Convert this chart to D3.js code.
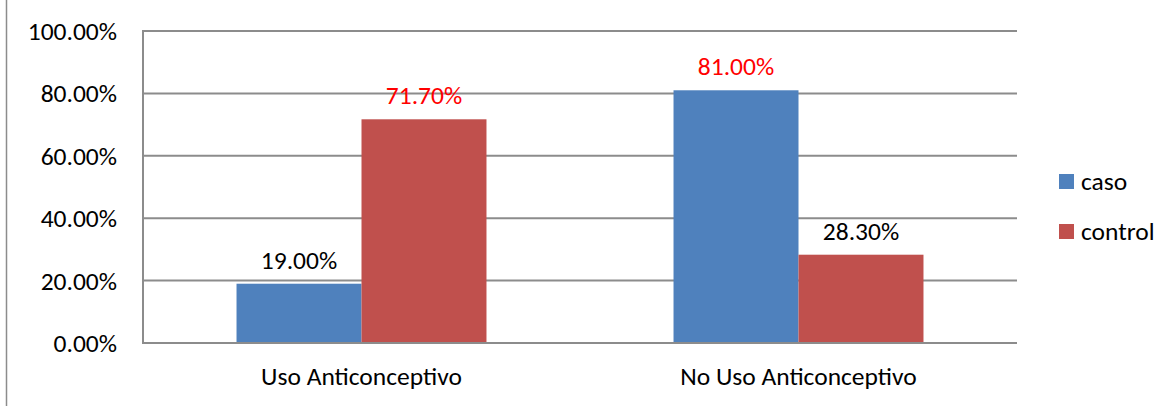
<!DOCTYPE html>
<html>
<head>
<meta charset="utf-8">
<script src="https://cdn.jsdelivr.net/npm/d3@7"></script>
<style>
  body { margin: 0; background: #fff; }
  text { font-family: Carlito, Calibri, Lato, sans-serif; }
</style>
</head>
<body>
<div id="chart"></div>
<script>
// Data
const categories = ["Uso Anticonceptivo", "No Uso Anticonceptivo"];
const seriesNames = ["caso", "control"];
const caso = [19.0, 81.0];
const control = [71.7, 28.3];
const yTicks = [0, 20, 40, 60, 80, 100];

const colors = {caso: "#4f81bd", control: "#c0504d"};
// label colour: the larger bar of each group gets a red label
const labelColor = (v, other) => v > other ? "#ff0000" : "#000000";

const W = 1175, H = 406;
const plot = {left: 143, right: 1017, top: 31, bottom: 343};
const fontSize = 25.5;

const svg = d3.select("#chart").append("svg")
  .attr("width", W)
  .attr("height", H);

// outer chart border (only the left edge shows)
svg.append("line")
  .attr("x1", 6.5).attr("x2", 6.5)
  .attr("y1", 0).attr("y2", H)
  .attr("stroke", "#8c8c8c")
  .attr("stroke-width", 1.5);

// scales
const x = d3.scaleBand()
  .domain(categories)
  .range([plot.left, plot.right])
  .paddingInner(0.428)
  .paddingOuter(0.214);

const x1 = d3.scaleBand()
  .domain(seriesNames)
  .range([0, x.bandwidth()]);

const y = d3.scaleLinear()
  .domain([0, 100])
  .range([plot.bottom, plot.top]);

// gridlines
svg.append("g")
  .selectAll("line")
  .data(yTicks)
  .enter().append("line")
  .attr("x1", plot.left).attr("x2", plot.right)
  .attr("y1", d => y(d)).attr("y2", d => y(d))
  .attr("stroke", "#8c8c8c")
  .attr("stroke-width", 2);

// left axis line
svg.append("line")
  .attr("x1", plot.left).attr("x2", plot.left)
  .attr("y1", plot.top - 1).attr("y2", plot.bottom + 1)
  .attr("stroke", "#8c8c8c")
  .attr("stroke-width", 2);

// y tick labels
svg.append("g")
  .selectAll("text")
  .data(yTicks)
  .enter().append("text")
  .attr("x", 117)
  .attr("y", d => y(d))
  .attr("dy", "0.35em")
  .attr("text-anchor", "end")
  .attr("font-size", fontSize)
  .attr("fill", "#000")
  .text(d => d.toFixed(2) + "%");

// bars
const rows = categories.map((c, i) => ({
  category: c,
  values: [
    {key: "caso", value: caso[i], other: control[i]},
    {key: "control", value: control[i], other: caso[i]}
  ]
}));

const groups = svg.append("g")
  .selectAll("g")
  .data(rows)
  .enter().append("g")
  .attr("transform", d => "translate(" + x(d.category) + ",0)");

groups.selectAll("rect")
  .data(d => d.values)
  .enter().append("rect")
  .attr("x", d => x1(d.key))
  .attr("width", x1.bandwidth())
  .attr("y", d => y(d.value))
  .attr("height", d => y(0) - y(d.value))
  .attr("fill", d => colors[d.key]);

// value labels
groups.selectAll("text")
  .data(d => d.values)
  .enter().append("text")
  .attr("x", d => x1(d.key) + x1.bandwidth() / 2)
  .attr("y", d => y(d.value) - 15)
  .attr("text-anchor", "middle")
  .attr("font-size", fontSize)
  .attr("fill", d => labelColor(d.value, d.other))
  .text(d => d.value.toFixed(2) + "%");

// redraw bottom axis line over bars
svg.append("line")
  .attr("x1", plot.left).attr("x2", plot.right)
  .attr("y1", plot.bottom).attr("y2", plot.bottom)
  .attr("stroke", "#8c8c8c")
  .attr("stroke-width", 2);

// category labels
svg.append("g")
  .selectAll("text")
  .data(categories)
  .enter().append("text")
  .attr("x", d => x(d) + x.bandwidth() / 2)
  .attr("y", 385)
  .attr("text-anchor", "middle")
  .attr("font-size", fontSize)
  .attr("fill", "#000")
  .text(d => d);

// legend
const legend = svg.append("g")
  .selectAll("g")
  .data(seriesNames)
  .enter().append("g")
  .attr("transform", (d, i) => "translate(1059," + (174 + i * 50) + ")");

legend.append("rect")
  .attr("width", 15)
  .attr("height", 15)
  .attr("fill", d => colors[d]);

legend.append("text")
  .attr("x", 22)
  .attr("y", 7.5)
  .attr("dy", "0.35em")
  .attr("font-size", fontSize)
  .attr("fill", "#000")
  .text(d => d);
</script>
</body>
</html>
